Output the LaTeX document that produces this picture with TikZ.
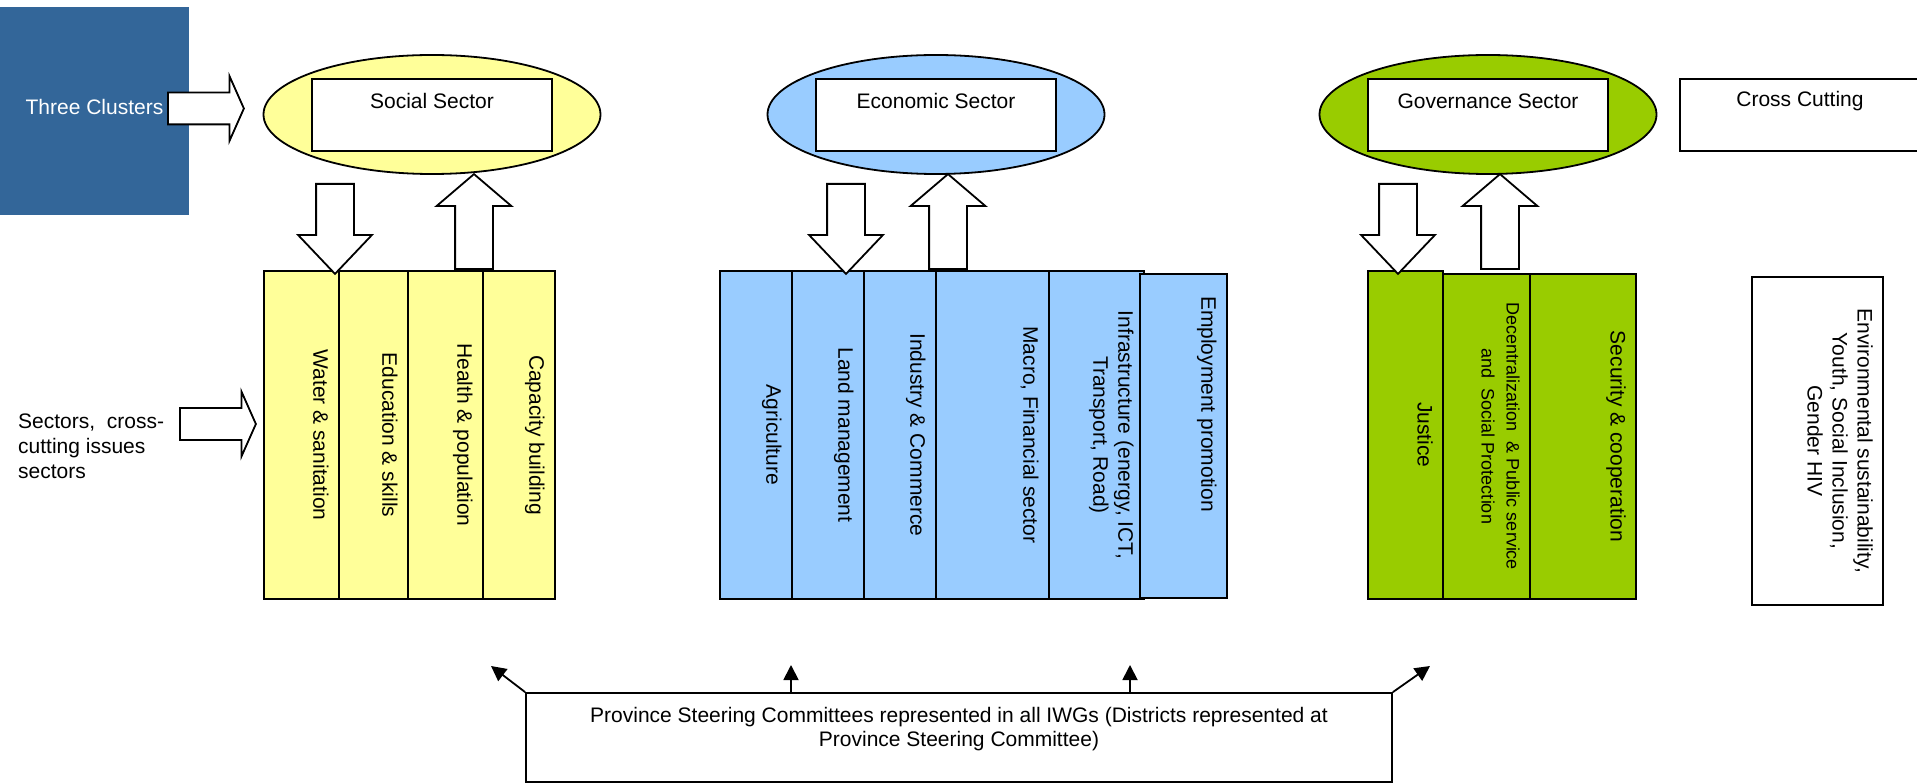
\documentclass[tikz,border=0pt]{standalone}
\usepackage{fontspec}
\setmainfont{Liberation Sans}
\usetikzlibrary{positioning,arrows.meta,shapes.geometric,shapes.arrows}
\definecolor{socfill}{HTML}{FFFF99}
\definecolor{ecofill}{HTML}{99CCFF}
\definecolor{govfill}{HTML}{99CC00}
\definecolor{clublue}{HTML}{336699}
\newcommand{\bigtxt}{\fontsize{21}{25}\selectfont}
\newcommand{\midtxt}{\fontsize{18}{25}\selectfont}

\begin{document}
\begin{tikzpicture}[x=1pt,y=-1pt,font=\bigtxt,
  sec/.style={ellipse,draw,line width=1.8pt,minimum width=337pt,minimum height=119pt},
  hd/.style={rectangle,draw,fill=white,line width=1.8pt,minimum width=240pt,minimum height=72pt},
  col/.style={rectangle,draw,line width=1.8pt,inner sep=0pt,minimum height=328pt},
  vt/.style={rotate=-90,anchor=north,inner sep=0pt,align=center},
  blk/.style={single arrow,draw,fill=white,line width=1.8pt,anchor=tail},
  rtar/.style={blk,inner sep=15pt,minimum height=76pt,single arrow head extend=16.5pt,single arrow tip angle=132},
  dnar/.style={blk,inner sep=18pt,minimum height=90pt,single arrow head extend=18pt,single arrow tip angle=87,shape border rotate=270},
  upar/.style={blk,inner sep=18pt,minimum height=95pt,single arrow head extend=18.5pt,single arrow tip angle=99,shape border rotate=90},
  lk/.style={-{Triangle[length=15pt,width=15pt]},line width=1.8pt}]
\useasboundingbox (0,0) rectangle (1917,783);
\clip (0,0) rectangle (1917,783);

% --- clusters ---
\node[fill=clublue,minimum width=189pt,minimum height=208pt] (clu) at (94.5,111) {};
\node[text=white] at ([yshift=4pt]clu.center) {Three Clusters};
\node[rtar] (cluar) at (167,108.5) {};

\node[sec,fill=socfill] (soc) at (432,114.5) {};
\node[hd] (socH) at (432,115) {};
\node at ([yshift=-23pt]socH.north) {Social Sector};

\node[sec,fill=ecofill] (eco) at (936,114.5) {};
\node[hd] (ecoH) at (936,115) {};
\node at ([yshift=-23pt]ecoH.north) {Economic Sector};

\node[sec,fill=govfill] (gov) at (1488,114.5) {};
\node[hd] (govH) at (1488,115) {};
\node at ([yshift=-23pt]govH.north) {Governance Sector};

\node[hd] (crsH) at (1800,115) {};
\node at ([yshift=-23pt]crsH.north) {Cross Cutting};

% --- sectors ---
\node[align=left,anchor=west,inner sep=0pt] (lt) at (18,446) {Sectors,\ \ cross-\\cutting issues\\sectors};
\node[rtar] (secar) at (179,424) {};

\node[col,fill=socfill,minimum width=75pt] (water) at (301.5,435) {};
\node[col,fill=socfill,minimum width=69pt] (edu) at (373.5,435) {};
\node[col,fill=socfill,minimum width=75pt] (health) at (445.5,435) {};
\node[col,fill=socfill,minimum width=72pt] (cap) at (519,435) {};
\node[vt] at ([xshift=-11pt]water.east) {Water \& sanitation};
\node[vt] at ([xshift=-11pt]edu.east) {Education \& skills};
\node[vt] at ([xshift=-11pt]health.east) {Health \& population};
\node[vt] at ([xshift=-11pt]cap.east) {Capacity building};

\node[col,fill=ecofill,minimum width=72pt] (agri) at (756,435) {};
\node[col,fill=ecofill,minimum width=72pt] (land) at (828,435) {};
\node[col,fill=ecofill,minimum width=72pt] (ind) at (900,435) {};
\node[col,fill=ecofill,minimum width=113pt] (macro) at (992.5,435) {};
\node[col,fill=ecofill,minimum width=95pt] (infra) at (1096.5,435) {};
\node[col,fill=ecofill,minimum width=87pt,minimum height=324pt] (empl) at (1183.5,436) {};
\node[vt] at ([xshift=-11pt]agri.east) {Agriculture};
\node[vt] at ([xshift=-11pt]land.east) {Land management};
\node[vt] at ([xshift=-11pt]ind.east) {Industry \& Commerce};
\node[vt] at ([xshift=-11pt]macro.east) {Macro, Financial sector};
\node[vt] at ([xshift=-11pt]infra.east) {Infrastructure (energy, ICT,\\Transport, Road)};
\node[vt] at ([xshift=-11pt,yshift=32pt]empl.east) {Employment promotion};

\node[col,fill=govfill,minimum width=75pt] (just) at (1405.5,435) {};
\node[col,fill=govfill,minimum width=87pt,minimum height=325pt] (decen) at (1486.5,436.5) {};
\node[col,fill=govfill,minimum width=106pt,minimum height=325pt] (secu) at (1583,436.5) {};
\node[vt] at ([xshift=-11pt]just.east) {Justice};
\node[vt,font=\midtxt] at ([xshift=-11pt]decen.east) {Decentralization\ \ \& Public service\\and\ \ Social Protection};
\node[vt] at ([xshift=-11pt]secu.east) {Security \& cooperation};

\node[col,fill=white,minimum width=131pt] (crs) at (1817.5,441) {};
\node[vt] at ([xshift=-11pt]crs.east) {Environmental sustainability,\\Youth, Social Inclusion,\\Gender HIV};

% --- links between levels ---
\node[dnar] (socdn) at (335,183) {};
\node[upar] (socup) at (474,270) {};
\node[dnar] (ecodn) at (846,183) {};
\node[upar] (ecoup) at (948,270) {};
\node[dnar] (govdn) at (1398,183) {};
\node[upar] (govup) at (1500,270) {};

% --- province committees ---
\node[col,fill=white,minimum width=866pt,minimum height=89pt] (psc) at (959,737.5) {};
\node[align=center] at (959,729) {Province Steering Committees represented in all IWGs (Districts represented at\\[-1pt]Province Steering Committee)};
\coordinate (p1) at (491,666);
\coordinate (p2) at (791,665);
\coordinate (p3) at (1130,665);
\coordinate (p4) at (1430,666);
\draw[lk] (psc.north west) -- (p1);
\draw[lk] (p2 |- psc.north) -- (p2);
\draw[lk] (p3 |- psc.north) -- (p3);
\draw[lk] (psc.north east) -- (p4);
\end{tikzpicture}
\end{document}
